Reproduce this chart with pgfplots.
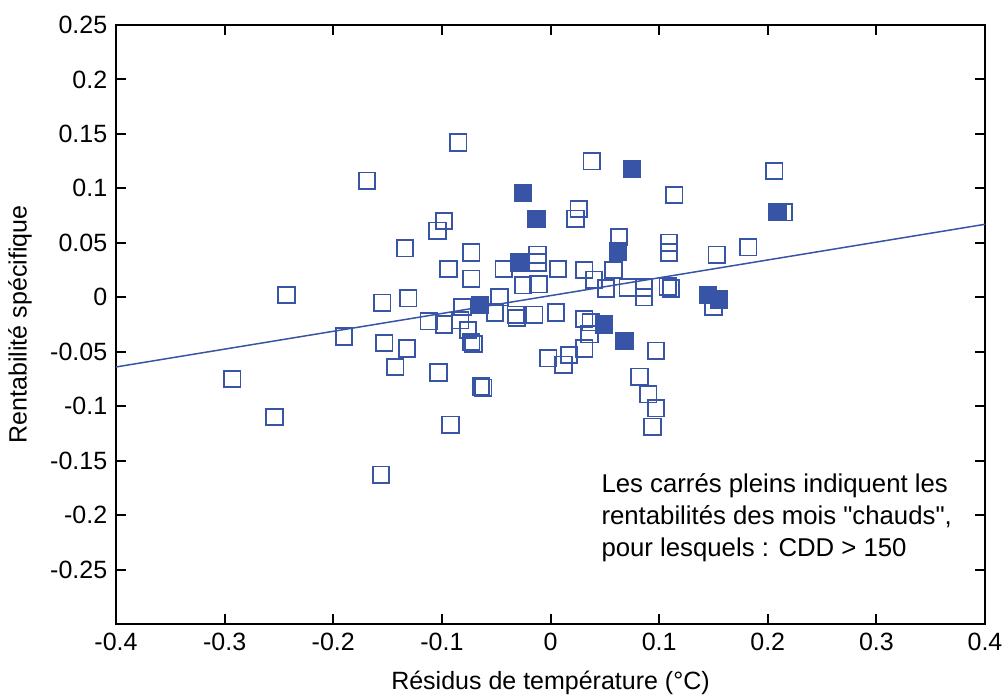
\documentclass[border=0pt]{standalone}
\usepackage{fontspec}
\setmainfont{Liberation Sans}
\newfontfamily\rawfont{Liberation Sans}
\usepackage{pgfplots}
\pgfplotsset{compat=1.18}

\definecolor{mblue}{RGB}{56,84,166}

\begin{document}
\begin{tikzpicture}
\begin{axis}[
  name=ax,
  scale only axis,
  width=347.6pt, height=239.6pt,
  xmin=-0.4, xmax=0.4, ymin=-0.3, ymax=0.25,
  xtick={-0.4,-0.3,...,0.4},
  xticklabels={-0.4,-0.3,-0.2,-0.1,0,0.1,0.2,0.3,0.4},
  ytick={-0.25,-0.2,-0.15,-0.1,-0.05,0,0.05,0.1,0.15,0.2,0.25},
  yticklabels={-0.25,-0.2,-0.15,-0.1,-0.05,0,0.05,0.1,0.15,0.2,0.25},
  tick align=inside,
  major tick length=4pt,
  axis line style={line width=0.8pt},
  every tick/.style={black, line width=0.8pt},
  xlabel={Résidus de température (°C)},
  ylabel={Rentabilité spécifique},
  every axis x label/.style={at={(axis description cs:0.5,-0.0985)}, anchor=center},
  every axis y label/.style={at={(axis description cs:-0.1105,0.5)}, rotate=90, anchor=center},
  clip=false,
]
% mois ordinaires
\addplot[only marks, mark=square, mark size=3.3pt, mark options={mblue, line width=0.7pt}]
  table {
x y
-0.293 -0.075
-0.254 -0.110
-0.243 0.002
-0.190 -0.036
-0.169 0.107
-0.156 -0.163
-0.155 -0.005
-0.153 -0.042
-0.143 -0.064
-0.134 0.045
-0.132 -0.047
-0.131 -0.001
-0.112 -0.022
-0.103 -0.069
-0.104 0.061
-0.098 0.070
-0.098 -0.025
-0.094 0.026
-0.092 -0.117
-0.085 0.142
-0.083 -0.021
-0.081 -0.009
-0.076 -0.030
-0.073 0.041
-0.073 0.017
-0.073 -0.041
-0.071 -0.043
-0.064 -0.082
-0.062 -0.083
-0.051 -0.014
-0.047 0.000
-0.043 0.026
-0.032 -0.016
-0.031 -0.019
-0.025 0.011
-0.015 -0.016
-0.012 0.039
-0.012 0.032
-0.011 0.012
-0.002 -0.056
0.005 -0.014
0.007 0.026
0.012 -0.062
0.017 -0.053
0.023 0.072
0.026 0.081
0.031 0.025
0.031 -0.020
0.037 -0.023
0.036 -0.034
0.031 -0.047
0.038 0.125
0.040 0.016
0.051 0.008
0.058 0.025
0.063 0.055
0.071 0.009
0.086 0.009
0.086 0.000
0.108 0.010
0.111 0.008
0.082 -0.073
0.090 -0.089
0.097 -0.102
0.094 -0.119
0.097 -0.049
0.109 0.050
0.109 0.041
0.114 0.094
0.150 -0.009
0.153 0.039
0.182 0.046
0.206 0.116
0.215 0.078
};
% mois chauds (CDD > 150)
\addplot[only marks, mark=square*, mark size=3.3pt, mark options={mblue, fill=mblue, line width=0.7pt}]
  table {
x y
-0.025 0.096
-0.013 0.072
0.075 0.118
0.209 0.078
-0.029 0.032
0.062 0.042
-0.065 -0.007
0.049 -0.025
0.068 -0.040
0.145 0.002
0.155 -0.002
};
% droite de regression
\addplot[mblue, line width=0.6pt] coordinates {(-0.4,-0.064) (0.4,0.067)};
\node[anchor=north west, inner sep=0pt, align=left, font=\rawfont\fontsize{10.3}{12.8}\selectfont]
  at (axis cs:0.0465,-0.161)
  {Les carrés pleins indiquent les\\rentabilités des mois "chauds",\\pour lesquels : CDD > 150};
\end{axis}
\pgfresetboundingbox
\useasboundingbox ([shift={(-46.4pt,-29.6pt)}]ax.south west) rectangle ([shift={(8pt,10pt)}]ax.north east);
\end{tikzpicture}
\end{document}
